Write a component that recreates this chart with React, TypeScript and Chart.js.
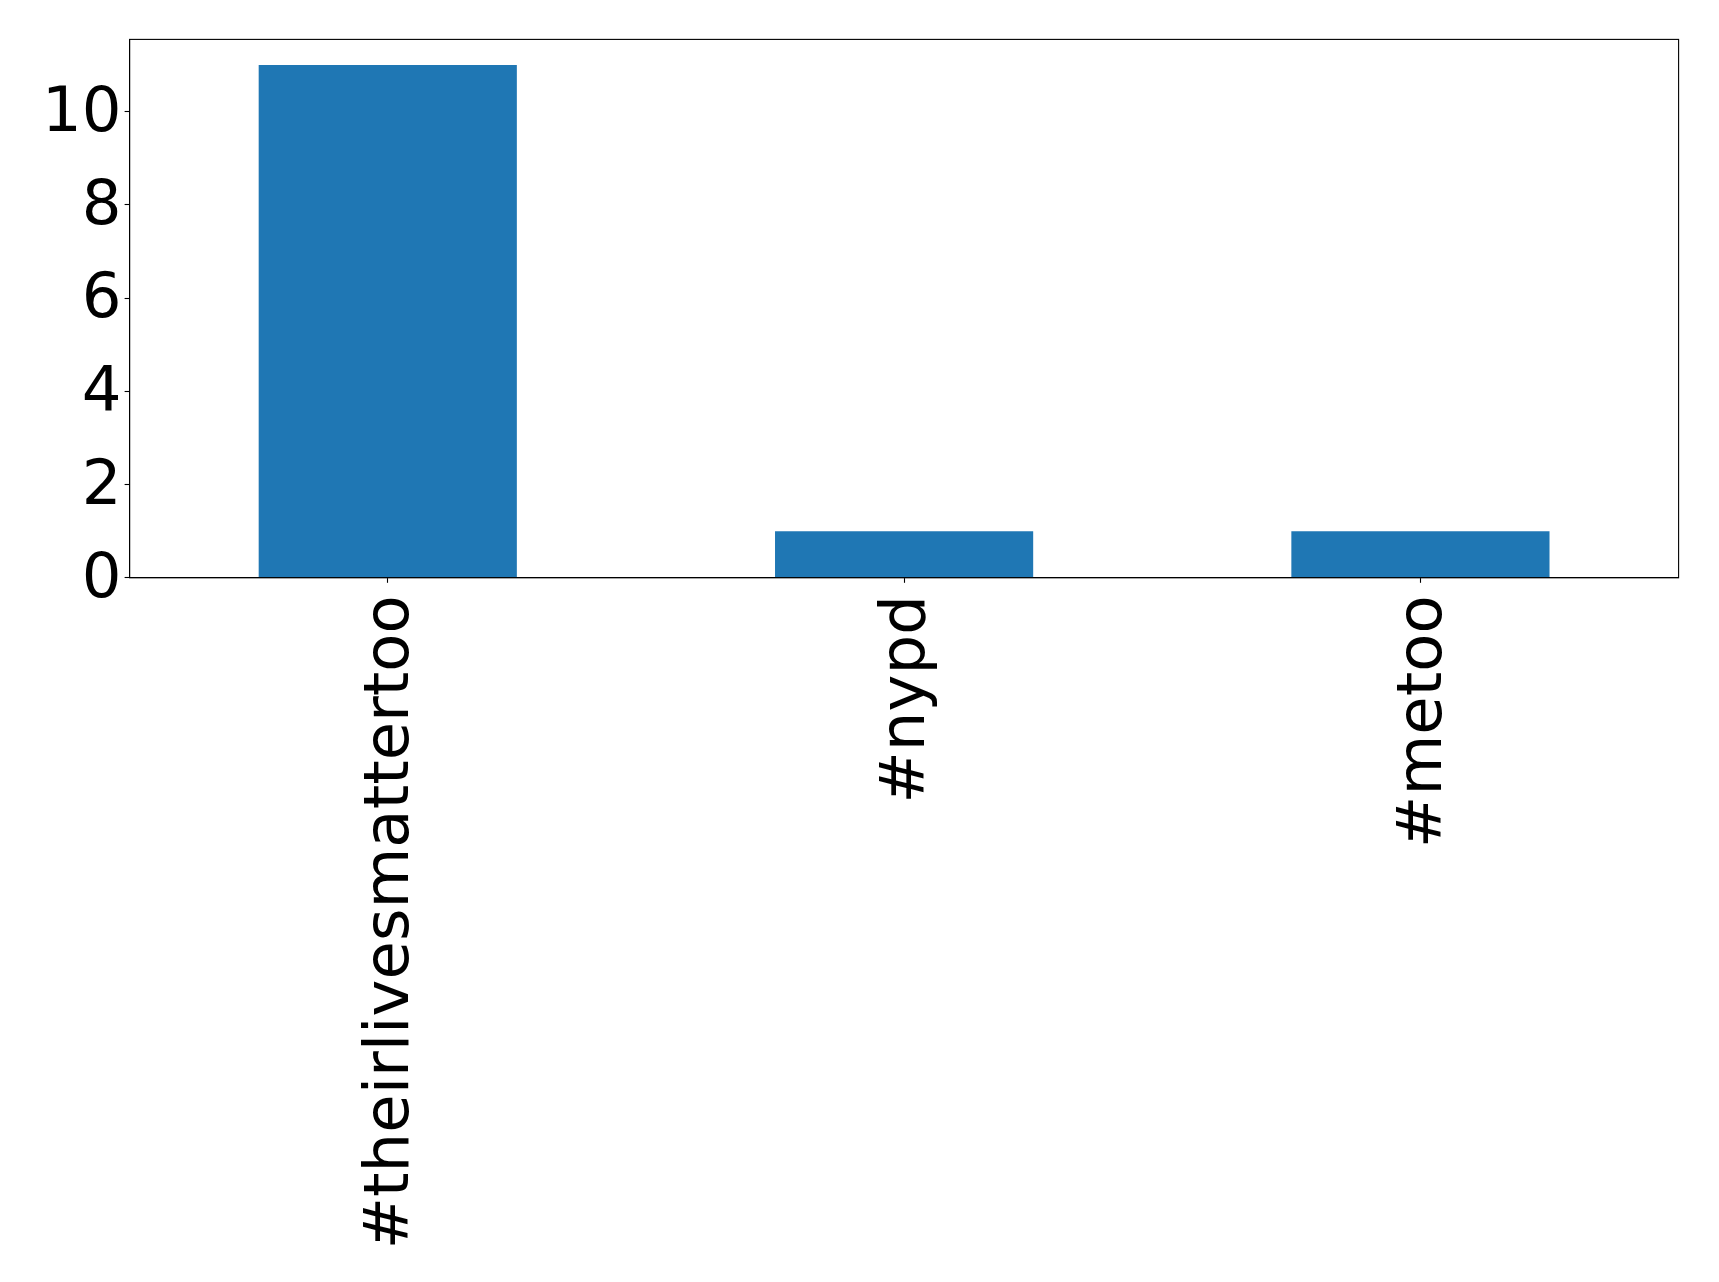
import React, { useEffect, useRef } from "react";
import { Chart, registerables } from "chart.js";

Chart.register(...registerables);

const categories = ["#theirlivesmattertoo", "#nypd", "#metoo"];
const counts = [11, 1, 1];
const yTickValues = [0, 2, 4, 6, 8, 10];

const W = 1719;
const H = 1282;

const framePlugin = {
  id: "frame",
  afterDraw(chart: any) {
    const { ctx, chartArea } = chart;
    ctx.save();
    ctx.strokeStyle = "#000";
    ctx.lineWidth = 1.1;
    ctx.strokeRect(chartArea.left, chartArea.top, chartArea.right - chartArea.left, chartArea.bottom - chartArea.top);
    ctx.restore();
  },
};

export default function App() {
  const ref = useRef<HTMLCanvasElement | null>(null);
  useEffect(() => {
    if (!ref.current) return;
    const font = { family: "'DejaVu Sans'", size: 62.5 };
    const chart = new Chart(ref.current, {
      type: "bar",
      data: {
        labels: categories,
        datasets: [
          {
            data: counts,
            backgroundColor: "#1f77b4",
            borderWidth: 0,
            barPercentage: 0.5,
            categoryPercentage: 1,
          },
        ],
      },
      options: {
        animation: false,
        responsive: false,
        devicePixelRatio: 1,
        layout: { padding: { top: 39.4, right: 40.4, left: 0, bottom: 0 } },
        plugins: { legend: { display: false }, tooltip: { enabled: false } },
        scales: {
          x: {
            offset: true,
            grid: { offset: false, drawOnChartArea: false, drawTicks: true, tickLength: 5, tickColor: "#000", tickWidth: 1.1 },
            border: { display: true, color: "#000", width: 1.1 },
            ticks: { color: "#000", font, minRotation: 90, maxRotation: 90, autoSkip: false, padding: 12.4, labelOffset: 4 },
            afterFit: (s: any) => {
              s.height = H - 577.8;
              s.paddingLeft = 0;
              s.paddingRight = 0;
            },
          },
          y: {
            min: 0,
            max: 11.55,
            grid: { drawOnChartArea: false, drawTicks: true, tickLength: 5, tickColor: "#000", tickWidth: 1.1 },
            border: { display: true, color: "#000", width: 1.1 },
            ticks: { color: "#000", font, stepSize: 2, includeBounds: false, padding: 3, autoSkip: false, labelOffset: 3 },
            afterBuildTicks: (s: any) => { s.ticks = yTickValues.map((v) => ({ value: v })); },
            afterFit: (s: any) => {
              s.width = 129.6;
              s.paddingTop = 0;
              s.paddingBottom = 0;
            },
          },
        },
      },
      plugins: [framePlugin],
    });
    return () => chart.destroy();
  }, []);
  return (
    <div style={{ position: "absolute", left: 0, top: 0, width: W, height: H, background: "#fff" }}>
      <canvas ref={ref} width={W} height={H} style={{ width: W, height: H, display: "block" }} />
    </div>
  );
}
